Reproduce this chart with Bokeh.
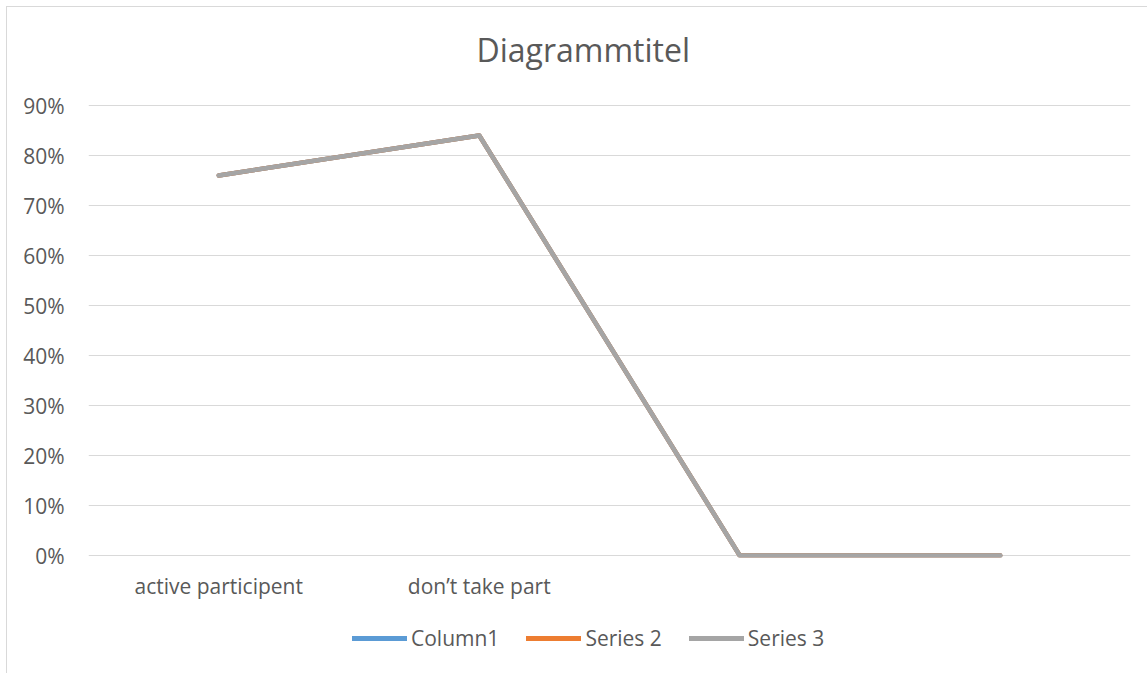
from bokeh.plotting import figure
from bokeh.layouts import column
from bokeh.models import Range1d, FixedTicker, Legend, LegendItem, NumeralTickFormatter
from bokeh.embed import file_html
from bokeh.resources import INLINE

categories = ["active participent", "don\u2019t take part", "", ""]
column1 = [0.76, 0.84, 0.0, 0.0]
series2 = [0.76, 0.84, 0.0, 0.0]
series3 = [0.76, 0.84, 0.0, 0.0]
series_names = ["Column1", "Series 2", "Series 3"]
colors = ["#5B9BD5", "#ED7D31", "#A5A5A5"]
y_ticks = [0.0, 0.1, 0.2, 0.3, 0.4, 0.5, 0.6, 0.7, 0.8, 0.9]
chart_title = "Diagrammtitel"

FONT = "Open Sans"
TXT = "#595959"
LBL = "21px"

xs = list(range(len(categories)))
all_series = [column1, series2, series3]


def strip(height):
    f = figure(width=1140, height=height, output_backend="svg", toolbar_location=None,
               x_range=Range1d(-0.5, len(categories) - 0.5), y_range=Range1d(5, 6), min_border=0)
    f.axis.visible = False
    f.grid.visible = False
    f.outline_line_color = None
    f.background_fill_color = "white"
    f.border_fill_color = "white"
    return f


# title strip
top = strip(83)
top.title.text = chart_title
top.title.align = "left"
top.title.text_font = FONT
top.title.text_font_size = "32px"
top.title.text_font_style = "normal"
top.title.text_color = TXT
top.title.offset = 388
top.title.standoff = 37

# main chart
p = figure(width=1140, height=522, output_backend="svg", toolbar_location=None,
           x_range=Range1d(-0.5, len(categories) - 0.5), y_range=Range1d(-0.004, 0.904),
           min_border_left=81, min_border_right=17, min_border_top=13, min_border_bottom=55)
p.outline_line_color = None
p.background_fill_color = "white"
p.border_fill_color = "white"

p.yaxis.ticker = FixedTicker(ticks=y_ticks)
p.yaxis.formatter = NumeralTickFormatter(format="0%")
p.yaxis.axis_line_color = None
p.yaxis.major_tick_line_color = None
p.yaxis.minor_tick_line_color = None
p.yaxis.major_label_text_font = FONT
p.yaxis.major_label_text_font_size = LBL
p.yaxis.major_label_text_color = TXT
p.yaxis.major_label_standoff = 18

p.xaxis.ticker = FixedTicker(ticks=xs)
p.xaxis.major_label_overrides = {i: c for i, c in enumerate(categories)}
p.xaxis.axis_line_color = None
p.xaxis.major_tick_line_color = None
p.xaxis.minor_tick_line_color = None
p.xaxis.major_label_text_font = FONT
p.xaxis.major_label_text_font_size = LBL
p.xaxis.major_label_text_color = TXT
p.xaxis.major_label_standoff = 8

p.xgrid.grid_line_color = None
p.ygrid.ticker = FixedTicker(ticks=y_ticks)
p.ygrid.grid_line_color = "#D9D9D9"
p.ygrid.grid_line_width = 1

for name, vals, col in zip(series_names, all_series, colors):
    p.line(xs, vals, line_color=col, line_width=4.5, line_cap="round", line_join="round")

# legend strip below the chart (its data lie outside its view; only the legend shows)
lg = strip(61)
items = []
for name, vals, col in zip(series_names, all_series, colors):
    r = lg.line(xs, vals, line_color=col, line_width=5, line_cap="round")
    items.append(LegendItem(label=name, renderers=[r]))
legend = Legend(items=items, orientation="horizontal", location=(264, 21),
                glyph_width=55, glyph_height=20, label_standoff=4, spacing=27,
                label_text_font=FONT, label_text_font_size=LBL, label_text_color=TXT,
                border_line_color=None, background_fill_alpha=0, padding=0, margin=0)
lg.add_layout(legend, "center")

layout = column(top, p, lg, spacing=0)
layout.styles = {"border-left": "1px solid #D9D9D9", "border-top": "1px solid #D9D9D9",
                 "margin-left": "6px", "margin-top": "6px"}

open("out.html", "w").write(file_html(layout, INLINE))
